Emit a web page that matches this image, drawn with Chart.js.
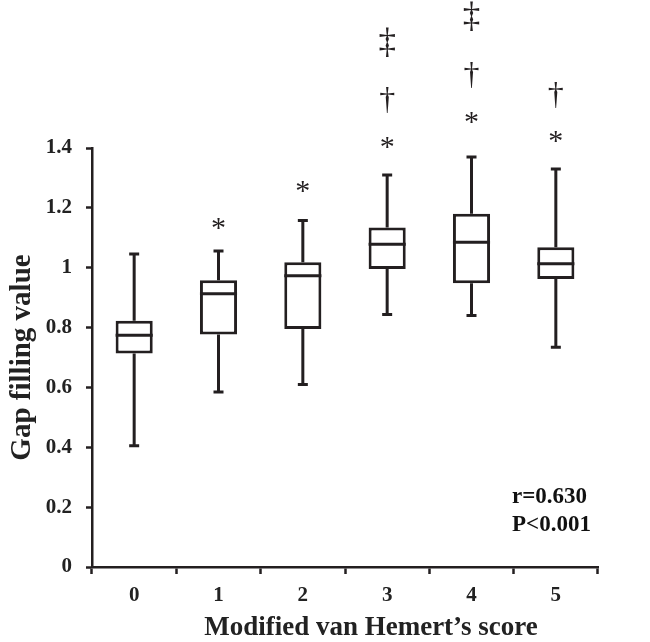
<!DOCTYPE html>
<html>
<head>
<meta charset="utf-8">
<script src="https://cdn.jsdelivr.net/npm/chart.js@4"></script>
<style>
  body { margin: 0; background: #fff; }
  #wrap { width: 650px; height: 642px; }
</style>
</head>
<body>
<div id="wrap"><canvas id="myChart"></canvas></div>
<script>
var scores = ["0", "1", "2", "3", "4", "5"];
var mins = [0.405, 0.585, 0.61, 0.844, 0.84, 0.734];
var q1s = [0.713, 0.777, 0.795, 0.996, 0.948, 0.962];
var medians = [0.774, 0.913, 0.973, 1.078, 1.085, 1.013];
var q3s = [0.823, 0.958, 1.018, 1.134, 1.18, 1.068];
var maxs = [1.046, 1.056, 1.158, 1.31, 1.37, 1.33];
// significance marks above the boxes
var starY = [null, 1.148, 1.271, 1.417, 1.503, 1.437];
var daggerY = [null, null, null, 1.56, 1.644, 1.577];
var ddaggerY = [null, null, null, 1.754, 1.84, null];
var statText = ["r=0.630", "P<0.001"];
var xTitle = "Modified van Hemert\u2019s score";

var ink = "#231f20";
var serif = "'Liberation Serif', 'Times New Roman', serif";

var boxData = q1s.map(function (q, i) { return [q, q3s[i]]; });

// whiskers, caps, medians and the marks on top
var boxPlugin = {
  id: "boxExtras",
  afterDatasetsDraw: function (chart) {
    var ctx = chart.ctx;
    var x = chart.scales.x, y = chart.scales.y;
    var bars = chart.getDatasetMeta(0).data;
    ctx.save();
    ctx.strokeStyle = ink;
    ctx.lineWidth = 3;
    ctx.lineCap = "butt";
    scores.forEach(function (s, i) {
      var cx = x.getPixelForValue(i);
      var half = bars[i].width / 2;
      ctx.beginPath();
      ctx.moveTo(cx, y.getPixelForValue(q3s[i]));
      ctx.lineTo(cx, y.getPixelForValue(maxs[i]));
      ctx.moveTo(cx, y.getPixelForValue(q1s[i]));
      ctx.lineTo(cx, y.getPixelForValue(mins[i]));
      ctx.moveTo(cx - 5, y.getPixelForValue(maxs[i]));
      ctx.lineTo(cx + 5, y.getPixelForValue(maxs[i]));
      ctx.moveTo(cx - 5, y.getPixelForValue(mins[i]));
      ctx.lineTo(cx + 5, y.getPixelForValue(mins[i]));
      ctx.moveTo(cx - half, y.getPixelForValue(medians[i]));
      ctx.lineTo(cx + half, y.getPixelForValue(medians[i]));
      ctx.stroke();
    });

    ctx.fillStyle = ink;
    ctx.textAlign = "center";
    ctx.textBaseline = "alphabetic";
    function mark(ch, vals, size) {
      ctx.font = size + "px " + serif;
      var m = ctx.measureText(ch);
      var off = (m.actualBoundingBoxAscent - m.actualBoundingBoxDescent) / 2;
      vals.forEach(function (v, i) {
        if (v === null) return;
        ctx.fillText(ch, x.getPixelForValue(i), y.getPixelForValue(v) + off);
      });
    }
    mark("*", starY, 30);
    mark("\u2020", daggerY, 32);
    mark("\u2021", ddaggerY, 35);

    var a = chart.chartArea;
    ctx.font = "bold 23px " + serif;
    ctx.textAlign = "left";
    ctx.textBaseline = "middle";
    ctx.fillStyle = "#111";
    ctx.fillText(statText[0], a.right - 86, a.bottom - 70);
    ctx.fillText(statText[1], a.right - 86, a.bottom - 42);

    // x title sits a little right of the axis centre in the original
    ctx.font = "bold 27px " + serif;
    ctx.textAlign = "center";
    ctx.fillStyle = "#222";
    ctx.fillText(xTitle, (a.left + a.right) / 2 + 26, a.bottom + 61);
    ctx.restore();
  }
};

new Chart("myChart", {
  type: "bar",
  data: {
    labels: scores,
    datasets: [
      {
        data: boxData,
        backgroundColor: "#ffffff",
        borderColor: ink,
        borderWidth: 3,
        borderSkipped: false,
        barPercentage: 0.44,
        categoryPercentage: 1,
      },
    ],
  },
  options: {
    responsive: true,
    maintainAspectRatio: false,
    animation: false,
    layout: { padding: { top: 148, right: 52, left: 0, bottom: 0 } },
    plugins: {
      legend: { display: false },
      tooltip: { enabled: false },
    },
    scales: {
      x: {
        offset: true,
        afterFit: function (scale) { scale.height = 75; },
        grid: {
          offset: true,
          drawOnChartArea: false,
          drawTicks: true,
          tickLength: 7,
          tickColor: ink,
          tickWidth: 2.5,
        },
        border: { display: true, color: ink, width: 2.5 },
        ticks: {
          color: "#222",
          padding: 9,
          font: { family: serif, size: 21, weight: "bold" },
        },
        title: { display: false },
      },
      y: {
        min: 0,
        max: 1.4,
        afterFit: function (scale) { scale.width = 92; },
        ticks: {
          stepSize: 0.2,
          color: "#222",
          padding: 14,
          font: { family: serif, size: 21, weight: "bold" },
          callback: function (v) { return String(+v.toFixed(1)); },
        },
        grid: {
          drawOnChartArea: false,
          drawTicks: true,
          tickLength: 6,
          tickColor: ink,
          tickWidth: 2.5,
        },
        border: { display: true, color: ink, width: 2.5 },
        title: {
          display: true,
          text: "Gap filling value",
          color: "#222",
          padding: { top: 5, bottom: 0 },
          font: { family: serif, size: 29, weight: "bold" },
        },
      },
    },
  },
  plugins: [boxPlugin],
});
</script>
</body>
</html>
